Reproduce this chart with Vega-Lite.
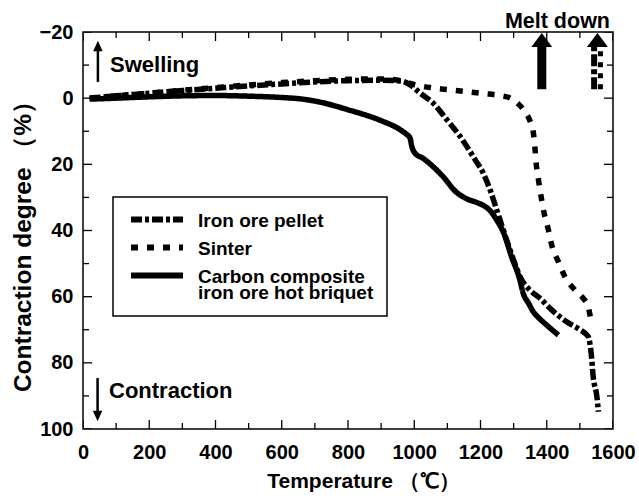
{
  "$schema": "https://vega.github.io/schema/vega-lite/v6.json",
  "width": 530,
  "height": 397,
  "autosize": {"type": "none"},
  "padding": {"left": 83, "top": 32, "right": 26, "bottom": 70},
  "background": "white",
  "title": {"text": "Melt down", "anchor": "end", "frame": "group", "fontSize": 21.5, "fontWeight": "bold", "font": "Liberation Sans", "offset": -10, "dx": -3, "color": "black"},
  "config": {
    "font": "Liberation Sans",
    "view": {"stroke": "black", "strokeWidth": 1.5},
    "axis": {"ticks": false, "domain": false, "grid": false, "labelColor": "black", "titleColor": "black", "labelFontWeight": "bold", "titleFontWeight": "bold", "labelFontSize": 20},
    "legend": {"symbolStrokeColor": "black"}
  },
  "datasets": {
    "curves": [
      {"series": "Iron ore pellet", "T": 20, "C": 0},
      {"series": "Iron ore pellet", "T": 100, "C": -0.7},
      {"series": "Iron ore pellet", "T": 200, "C": -1.5},
      {"series": "Iron ore pellet", "T": 300, "C": -2.3},
      {"series": "Iron ore pellet", "T": 400, "C": -3},
      {"series": "Iron ore pellet", "T": 500, "C": -3.7},
      {"series": "Iron ore pellet", "T": 600, "C": -4.3},
      {"series": "Iron ore pellet", "T": 700, "C": -4.9},
      {"series": "Iron ore pellet", "T": 800, "C": -5.3},
      {"series": "Iron ore pellet", "T": 900, "C": -5.4},
      {"series": "Iron ore pellet", "T": 960, "C": -5.2},
      {"series": "Iron ore pellet", "T": 985, "C": -4.2},
      {"series": "Iron ore pellet", "T": 1017, "C": -1.6},
      {"series": "Iron ore pellet", "T": 1057, "C": 1.5},
      {"series": "Iron ore pellet", "T": 1099, "C": 6.6},
      {"series": "Iron ore pellet", "T": 1138, "C": 11.5},
      {"series": "Iron ore pellet", "T": 1160, "C": 14.8},
      {"series": "Iron ore pellet", "T": 1185, "C": 18.8},
      {"series": "Iron ore pellet", "T": 1208, "C": 22.6},
      {"series": "Iron ore pellet", "T": 1230, "C": 28},
      {"series": "Iron ore pellet", "T": 1249, "C": 33.8},
      {"series": "Iron ore pellet", "T": 1279, "C": 42.9},
      {"series": "Iron ore pellet", "T": 1300, "C": 49},
      {"series": "Iron ore pellet", "T": 1322, "C": 54.5},
      {"series": "Iron ore pellet", "T": 1349, "C": 58},
      {"series": "Iron ore pellet", "T": 1380, "C": 60.5},
      {"series": "Iron ore pellet", "T": 1415, "C": 64},
      {"series": "Iron ore pellet", "T": 1460, "C": 67.6},
      {"series": "Iron ore pellet", "T": 1500, "C": 70},
      {"series": "Iron ore pellet", "T": 1525, "C": 72},
      {"series": "Iron ore pellet", "T": 1535, "C": 78},
      {"series": "Iron ore pellet", "T": 1540, "C": 84},
      {"series": "Iron ore pellet", "T": 1551, "C": 90},
      {"series": "Iron ore pellet", "T": 1556, "C": 94.8},
      {"series": "Sinter", "T": 20, "C": 0},
      {"series": "Sinter", "T": 100, "C": -0.7},
      {"series": "Sinter", "T": 200, "C": -1.5},
      {"series": "Sinter", "T": 300, "C": -2.4},
      {"series": "Sinter", "T": 400, "C": -3.2},
      {"series": "Sinter", "T": 500, "C": -4},
      {"series": "Sinter", "T": 600, "C": -4.7},
      {"series": "Sinter", "T": 700, "C": -5.3},
      {"series": "Sinter", "T": 800, "C": -5.7},
      {"series": "Sinter", "T": 900, "C": -5.8},
      {"series": "Sinter", "T": 960, "C": -5.3},
      {"series": "Sinter", "T": 996, "C": -4.2},
      {"series": "Sinter", "T": 1048, "C": -3.2},
      {"series": "Sinter", "T": 1099, "C": -2.6},
      {"series": "Sinter", "T": 1148, "C": -2.1},
      {"series": "Sinter", "T": 1208, "C": -1.4},
      {"series": "Sinter", "T": 1259, "C": -0.8},
      {"series": "Sinter", "T": 1290, "C": 0},
      {"series": "Sinter", "T": 1315, "C": 1.8},
      {"series": "Sinter", "T": 1335, "C": 4.2},
      {"series": "Sinter", "T": 1350, "C": 7},
      {"series": "Sinter", "T": 1359, "C": 10},
      {"series": "Sinter", "T": 1364, "C": 14.7},
      {"series": "Sinter", "T": 1368, "C": 19.6},
      {"series": "Sinter", "T": 1375, "C": 24.7},
      {"series": "Sinter", "T": 1383, "C": 29.8},
      {"series": "Sinter", "T": 1392, "C": 34.7},
      {"series": "Sinter", "T": 1405, "C": 39.8},
      {"series": "Sinter", "T": 1415, "C": 44.4},
      {"series": "Sinter", "T": 1435, "C": 49.4},
      {"series": "Sinter", "T": 1455, "C": 54},
      {"series": "Sinter", "T": 1485, "C": 58},
      {"series": "Sinter", "T": 1510, "C": 60.5},
      {"series": "Sinter", "T": 1525, "C": 63},
      {"series": "Sinter", "T": 1533, "C": 67},
      {"series": "Carbon composite iron ore hot briquet", "T": 20, "C": 0.3},
      {"series": "Carbon composite iron ore hot briquet", "T": 100, "C": 0},
      {"series": "Carbon composite iron ore hot briquet", "T": 200, "C": -0.4},
      {"series": "Carbon composite iron ore hot briquet", "T": 300, "C": -0.7},
      {"series": "Carbon composite iron ore hot briquet", "T": 400, "C": -0.8},
      {"series": "Carbon composite iron ore hot briquet", "T": 500, "C": -0.6},
      {"series": "Carbon composite iron ore hot briquet", "T": 600, "C": -0.2},
      {"series": "Carbon composite iron ore hot briquet", "T": 655, "C": 0.2},
      {"series": "Carbon composite iron ore hot briquet", "T": 716, "C": 1.2},
      {"series": "Carbon composite iron ore hot briquet", "T": 800, "C": 3.5},
      {"series": "Carbon composite iron ore hot briquet", "T": 900, "C": 6.8},
      {"series": "Carbon composite iron ore hot briquet", "T": 957, "C": 9.5},
      {"series": "Carbon composite iron ore hot briquet", "T": 975, "C": 10.8},
      {"series": "Carbon composite iron ore hot briquet", "T": 987, "C": 12},
      {"series": "Carbon composite iron ore hot briquet", "T": 993, "C": 14.7},
      {"series": "Carbon composite iron ore hot briquet", "T": 1002, "C": 16.6},
      {"series": "Carbon composite iron ore hot briquet", "T": 1027, "C": 18.2},
      {"series": "Carbon composite iron ore hot briquet", "T": 1057, "C": 20.7},
      {"series": "Carbon composite iron ore hot briquet", "T": 1085, "C": 23.5},
      {"series": "Carbon composite iron ore hot briquet", "T": 1128, "C": 28.5},
      {"series": "Carbon composite iron ore hot briquet", "T": 1160, "C": 30.5},
      {"series": "Carbon composite iron ore hot briquet", "T": 1188, "C": 31.5},
      {"series": "Carbon composite iron ore hot briquet", "T": 1210, "C": 32.5},
      {"series": "Carbon composite iron ore hot briquet", "T": 1229, "C": 34},
      {"series": "Carbon composite iron ore hot briquet", "T": 1250, "C": 37},
      {"series": "Carbon composite iron ore hot briquet", "T": 1269, "C": 40.5},
      {"series": "Carbon composite iron ore hot briquet", "T": 1294, "C": 48},
      {"series": "Carbon composite iron ore hot briquet", "T": 1319, "C": 55},
      {"series": "Carbon composite iron ore hot briquet", "T": 1329, "C": 59},
      {"series": "Carbon composite iron ore hot briquet", "T": 1345, "C": 62},
      {"series": "Carbon composite iron ore hot briquet", "T": 1359, "C": 64.5},
      {"series": "Carbon composite iron ore hot briquet", "T": 1380, "C": 66.8},
      {"series": "Carbon composite iron ore hot briquet", "T": 1400, "C": 68.6},
      {"series": "Carbon composite iron ore hot briquet", "T": 1435, "C": 71.6}
    ],
    "notes": [
      {"label": "Swelling", "T": 81.5, "C": -8},
      {"label": "Contraction", "T": 78.5, "C": 90.7}
    ],
    "thinArrows": [
      {"dir": "up", "T": 45, "C": -4.9, "C2": -15.6},
      {"dir": "down", "T": 44, "C": 84.6, "C2": 95.9}
    ],
    "meltSolid": [
      {"T": 1385, "C": -2.7, "C2": -17}
    ],
    "meltDashDot": [
      {"T": 1543, "C": -2.7, "C2": -17}
    ],
    "meltDashed": [
      {"T": 1562, "C": -2.7, "C2": -17}
    ],
    "meltHeads": [
      {"T": 1385, "C": -17.6},
      {"T": 1553, "C": -17.6}
    ],
    "xTicks": [
      {"T": 0, "kind": "major", "C": 100}, {"T": 100, "kind": "minor", "C": 100}, {"T": 200, "kind": "major", "C": 100}, {"T": 300, "kind": "minor", "C": 100},
      {"T": 400, "kind": "major", "C": 100}, {"T": 500, "kind": "minor", "C": 100}, {"T": 600, "kind": "major", "C": 100}, {"T": 700, "kind": "minor", "C": 100},
      {"T": 800, "kind": "major", "C": 100}, {"T": 900, "kind": "minor", "C": 100}, {"T": 1000, "kind": "major", "C": 100}, {"T": 1100, "kind": "minor", "C": 100},
      {"T": 1200, "kind": "major", "C": 100}, {"T": 1300, "kind": "minor", "C": 100}, {"T": 1400, "kind": "major", "C": 100}, {"T": 1500, "kind": "minor", "C": 100},
      {"T": 1600, "kind": "major", "C": 100},
      {"T": 0, "kind": "major", "C": -20}, {"T": 100, "kind": "minor", "C": -20}, {"T": 200, "kind": "major", "C": -20}, {"T": 300, "kind": "minor", "C": -20},
      {"T": 400, "kind": "major", "C": -20}, {"T": 500, "kind": "minor", "C": -20}, {"T": 600, "kind": "major", "C": -20}, {"T": 700, "kind": "minor", "C": -20},
      {"T": 800, "kind": "major", "C": -20}, {"T": 900, "kind": "minor", "C": -20}, {"T": 1000, "kind": "major", "C": -20}, {"T": 1100, "kind": "minor", "C": -20},
      {"T": 1200, "kind": "major", "C": -20}, {"T": 1300, "kind": "minor", "C": -20}, {"T": 1400, "kind": "major", "C": -20}, {"T": 1500, "kind": "minor", "C": -20},
      {"T": 1600, "kind": "major", "C": -20}
    ],
    "yTicks": [
      {"C": -20, "kind": "major", "T": 0}, {"C": -10, "kind": "minor", "T": 0}, {"C": 0, "kind": "major", "T": 0}, {"C": 10, "kind": "minor", "T": 0},
      {"C": 20, "kind": "major", "T": 0}, {"C": 30, "kind": "minor", "T": 0}, {"C": 40, "kind": "major", "T": 0}, {"C": 50, "kind": "minor", "T": 0},
      {"C": 60, "kind": "major", "T": 0}, {"C": 70, "kind": "minor", "T": 0}, {"C": 80, "kind": "major", "T": 0}, {"C": 90, "kind": "minor", "T": 0},
      {"C": 100, "kind": "major", "T": 0},
      {"C": -20, "kind": "major", "T": 1600}, {"C": -10, "kind": "minor", "T": 1600}, {"C": 0, "kind": "major", "T": 1600}, {"C": 10, "kind": "minor", "T": 1600},
      {"C": 20, "kind": "major", "T": 1600}, {"C": 30, "kind": "minor", "T": 1600}, {"C": 40, "kind": "major", "T": 1600}, {"C": 50, "kind": "minor", "T": 1600},
      {"C": 60, "kind": "major", "T": 1600}, {"C": 70, "kind": "minor", "T": 1600}, {"C": 80, "kind": "major", "T": 1600}, {"C": 90, "kind": "minor", "T": 1600},
      {"C": 100, "kind": "major", "T": 1600}
    ]
  },
  "layer": [
    {
      "data": {"name": "curves"},
      "mark": {"type": "line", "color": "black", "strokeWidth": 5.5, "interpolate": "monotone", "clip": true},
      "encoding": {
        "x": {
          "field": "T", "type": "quantitative", "title": "Temperature （℃）",
          "scale": {"domain": [0, 1600], "nice": false, "zero": false},
          "axis": {
            "orient": "bottom", "title": "Temperature （℃）", "titleFontSize": 21, "titlePadding": 8, "titleX": 280,
            "values": [0, 200, 400, 600, 800, 1000, 1200, 1400, 1600], "format": "d",
            "labelPadding": 13, "labelFlush": false, "labelOverlap": false
          }
        },
        "y": {
          "field": "C", "type": "quantitative", "title": "Contraction degree （%）",
          "scale": {"domain": [-20, 100], "reverse": true, "nice": false, "zero": false},
          "axis": {
            "orient": "left", "title": "Contraction degree （%）", "titleFontSize": 24.5, "titlePadding": 4, "titleY": 208,
            "values": [-20, 0, 20, 40, 60, 80, 100],
            "labelPadding": 10, "labelFlush": false, "labelOverlap": false
          }
        },
        "strokeDash": {
          "field": "series", "type": "nominal",
          "scale": {
            "domain": ["Iron ore pellet", "Sinter", "Carbon composite iron ore hot briquet"],
            "range": [[11, 3, 4, 3], [7, 9], [1, 0]]
          },
          "legend": {
            "orient": "none", "legendX": 30, "legendY": 165, "title": null,
            "fillColor": "white", "strokeColor": "black", "padding": 13,
            "symbolType": "stroke", "symbolSize": 2704, "symbolStrokeWidth": 6, "symbolOffset": 2,
            "clipHeight": 19, "rowPadding": 7, "labelOffset": 12,
            "labelFontSize": 19, "labelFontWeight": "bold", "labelColor": "black", "labelBaseline": "alphabetic",
            "labelLimit": 400,
            "labelExpr": "datum.label == 'Carbon composite iron ore hot briquet' ? ['Carbon composite', 'iron ore hot briquet'] : datum.label",
            "encode": {
              "labels": {"update": {"dy": {"value": 7}, "lineHeight": {"value": 16}}},
              "legend": {"update": {"strokeWidth": {"value": 1.5}}}
            }
          }
        }
      }
    },
    {
      "data": {"name": "xTicks"},
      "transform": [{"filter": "datum.kind == 'major'"}],
      "mark": {"type": "tick", "orient": "vertical", "color": "black", "size": 18, "thickness": 1.3, "opacity": 1, "clip": true},
      "encoding": {
        "x": {"field": "T", "type": "quantitative", "title": "Temperature （℃）", "scale": {"domain": [0, 1600], "nice": false, "zero": false}},
        "y": {"field": "C", "type": "quantitative", "title": "Contraction degree （%）", "scale": {"domain": [-20, 100], "reverse": true, "nice": false, "zero": false}}
      }
    },
    {
      "data": {"name": "xTicks"},
      "transform": [{"filter": "datum.kind == 'minor'"}],
      "mark": {"type": "tick", "orient": "vertical", "color": "black", "size": 12, "thickness": 1.3, "opacity": 1, "clip": true},
      "encoding": {
        "x": {"field": "T", "type": "quantitative", "title": "Temperature （℃）", "scale": {"domain": [0, 1600], "nice": false, "zero": false}},
        "y": {"field": "C", "type": "quantitative", "title": "Contraction degree （%）", "scale": {"domain": [-20, 100], "reverse": true, "nice": false, "zero": false}}
      }
    },
    {
      "data": {"name": "yTicks"},
      "transform": [{"filter": "datum.kind == 'major'"}],
      "mark": {"type": "tick", "orient": "horizontal", "color": "black", "size": 18, "thickness": 1.3, "opacity": 1, "clip": true},
      "encoding": {
        "x": {"field": "T", "type": "quantitative", "title": "Temperature （℃）", "scale": {"domain": [0, 1600], "nice": false, "zero": false}},
        "y": {"field": "C", "type": "quantitative", "title": "Contraction degree （%）", "scale": {"domain": [-20, 100], "reverse": true, "nice": false, "zero": false}}
      }
    },
    {
      "data": {"name": "yTicks"},
      "transform": [{"filter": "datum.kind == 'minor'"}],
      "mark": {"type": "tick", "orient": "horizontal", "color": "black", "size": 12, "thickness": 1.3, "opacity": 1, "clip": true},
      "encoding": {
        "x": {"field": "T", "type": "quantitative", "title": "Temperature （℃）", "scale": {"domain": [0, 1600], "nice": false, "zero": false}},
        "y": {"field": "C", "type": "quantitative", "title": "Contraction degree （%）", "scale": {"domain": [-20, 100], "reverse": true, "nice": false, "zero": false}}
      }
    },
    {
      "data": {"name": "notes"},
      "mark": {"type": "text", "align": "left", "baseline": "alphabetic", "fontSize": 22, "fontWeight": "bold", "color": "black"},
      "encoding": {
        "x": {"field": "T", "type": "quantitative", "title": "Temperature （℃）", "scale": {"domain": [0, 1600], "nice": false, "zero": false}},
        "y": {"field": "C", "type": "quantitative", "title": "Contraction degree （%）", "scale": {"domain": [-20, 100], "reverse": true, "nice": false, "zero": false}},
        "text": {"field": "label"}
      }
    },
    {
      "data": {"name": "thinArrows"},
      "mark": {"type": "rule", "color": "black", "strokeWidth": 2.5},
      "encoding": {
        "x": {"field": "T", "type": "quantitative", "title": "Temperature （℃）", "scale": {"domain": [0, 1600], "nice": false, "zero": false}},
        "y": {"field": "C", "type": "quantitative", "title": "Contraction degree （%）", "scale": {"domain": [-20, 100], "reverse": true, "nice": false, "zero": false}},
        "y2": {"field": "C2"}
      }
    },
    {
      "data": {"name": "thinArrows"},
      "mark": {"type": "point", "filled": true, "color": "black", "opacity": 1, "size": 90},
      "encoding": {
        "x": {"field": "T", "type": "quantitative", "title": "Temperature （℃）", "scale": {"domain": [0, 1600], "nice": false, "zero": false}},
        "y": {"field": "C2", "type": "quantitative", "title": "Contraction degree （%）", "scale": {"domain": [-20, 100], "reverse": true, "nice": false, "zero": false}},
        "shape": {
          "field": "dir", "type": "nominal",
          "scale": {"domain": ["up", "down"], "range": ["M-1,1L0,-1.2L1,1Z", "M-1,-1L0,1.2L1,-1Z"]},
          "legend": null
        }
      }
    },
    {
      "data": {"name": "meltSolid"},
      "mark": {"type": "rule", "color": "black", "strokeWidth": 9},
      "encoding": {
        "x": {"field": "T", "type": "quantitative", "title": "Temperature （℃）", "scale": {"domain": [0, 1600], "nice": false, "zero": false}},
        "y": {"field": "C", "type": "quantitative", "title": "Contraction degree （%）", "scale": {"domain": [-20, 100], "reverse": true, "nice": false, "zero": false}},
        "y2": {"field": "C2"}
      }
    },
    {
      "data": {"name": "meltDashDot"},
      "mark": {"type": "rule", "color": "black", "strokeWidth": 6, "strokeDash": [12, 3, 5, 3]},
      "encoding": {
        "x": {"field": "T", "type": "quantitative", "title": "Temperature （℃）", "scale": {"domain": [0, 1600], "nice": false, "zero": false}},
        "y": {"field": "C", "type": "quantitative", "title": "Contraction degree （%）", "scale": {"domain": [-20, 100], "reverse": true, "nice": false, "zero": false}},
        "y2": {"field": "C2"}
      }
    },
    {
      "data": {"name": "meltDashed"},
      "mark": {"type": "rule", "color": "black", "strokeWidth": 5, "strokeDash": [5, 6]},
      "encoding": {
        "x": {"field": "T", "type": "quantitative", "title": "Temperature （℃）", "scale": {"domain": [0, 1600], "nice": false, "zero": false}},
        "y": {"field": "C", "type": "quantitative", "title": "Contraction degree （%）", "scale": {"domain": [-20, 100], "reverse": true, "nice": false, "zero": false}},
        "y2": {"field": "C2"}
      }
    },
    {
      "data": {"name": "meltHeads"},
      "mark": {"type": "point", "filled": true, "color": "black", "opacity": 1, "size": 441, "shape": "M-1,0.667L0,-0.667L1,0.667Z"},
      "encoding": {
        "x": {"field": "T", "type": "quantitative", "title": "Temperature （℃）", "scale": {"domain": [0, 1600], "nice": false, "zero": false}},
        "y": {"field": "C", "type": "quantitative", "title": "Contraction degree （%）", "scale": {"domain": [-20, 100], "reverse": true, "nice": false, "zero": false}}
      }
    }
  ]
}
